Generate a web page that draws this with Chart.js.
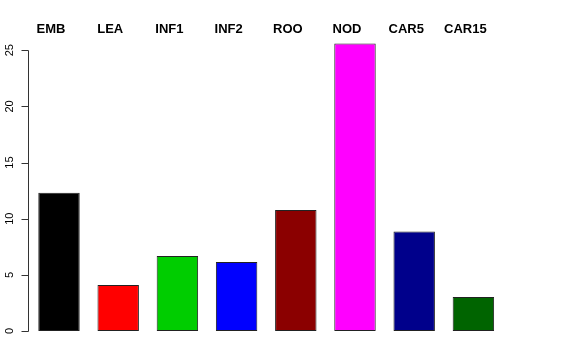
<!DOCTYPE html>
<html>
<head>
<meta charset="utf-8">
<script src="https://cdn.jsdelivr.net/npm/chart.js@4"></script>
<style>
  html, body { margin: 0; padding: 0; background: #fff; }
  #wrap { width: 576px; height: 360px; }
</style>
</head>
<body>
<div id="wrap"><canvas id="chart" width="576" height="360"></canvas></div>
<script>
  const categories = ['EMB', 'LEA', 'INF1', 'INF2', 'ROO', 'NOD', 'CAR5', 'CAR15']
  const values = [12.32, 4.09, 6.67, 6.14, 10.77, 25.6, 8.85, 3.02]
  const barColors = ['#000000', '#ff0000', '#00cd00', '#0000ff', '#8b0000', '#ff00ff', '#00008b', '#006400']
  const yTicks = [0, 5, 10, 15, 20, 25]

  // R-style y axis: line only from first to last tick, rotated labels
  const rAxis = {
    id: 'rAxis',
    afterDraw(chart) {
      const ctx = chart.ctx
      const y = chart.scales.y
      const x0 = 28.5
      ctx.save()
      ctx.strokeStyle = '#333'
      ctx.lineWidth = 1
      ctx.beginPath()
      ctx.moveTo(x0, Math.round(y.getPixelForValue(yTicks[0])) + 0.5)
      ctx.lineTo(x0, Math.round(y.getPixelForValue(yTicks[yTicks.length - 1])) + 0.5)
      yTicks.forEach(t => {
        const py = Math.round(y.getPixelForValue(t)) + 0.5
        ctx.moveTo(x0, py)
        ctx.lineTo(x0 - 7, py)
      })
      ctx.stroke()
      ctx.fillStyle = '#000'
      ctx.font = '11px "Liberation Sans", Arial, sans-serif'
      ctx.textAlign = 'center'
      ctx.textBaseline = 'middle'
      yTicks.forEach(t => {
        ctx.save()
        ctx.translate(10, y.getPixelForValue(t))
        ctx.rotate(-Math.PI / 2)
        ctx.fillText(String(t), 0, 0)
        ctx.restore()
      })
      ctx.restore()
    }
  }

  new Chart(document.getElementById('chart'), {
    type: 'bar',
    data: {
      labels: categories,
      datasets: [{
        data: values,
        backgroundColor: barColors,
        borderColor: '#222',
        borderWidth: 1,
        borderSkipped: false,
        barPercentage: 0.7,
        categoryPercentage: 1
      }]
    },
    options: {
      responsive: false,
      animation: false,
      layout: { padding: { left: 0, right: 73, top: 9, bottom: 29 } },
      plugins: { legend: { display: false }, tooltip: { enabled: false } },
      scales: {
        x: {
          position: 'top',
          grid: { display: false, drawTicks: false },
          border: { display: false },
          ticks: {
            color: '#000',
            padding: 2,
            labelOffset: -8,
            maxRotation: 0,
            font: { family: '"Liberation Sans", Arial, sans-serif', size: 13, weight: 'bold' }
          },
          afterFit: s => { s.height = 30 }
        },
        y: {
          min: 0,
          max: 26,
          grid: { display: false },
          border: { display: false },
          ticks: { display: false },
          afterFit: s => { s.width = 29.4 }
        }
      }
    },
    plugins: [rAxis]
  })
</script>
</body>
</html>
